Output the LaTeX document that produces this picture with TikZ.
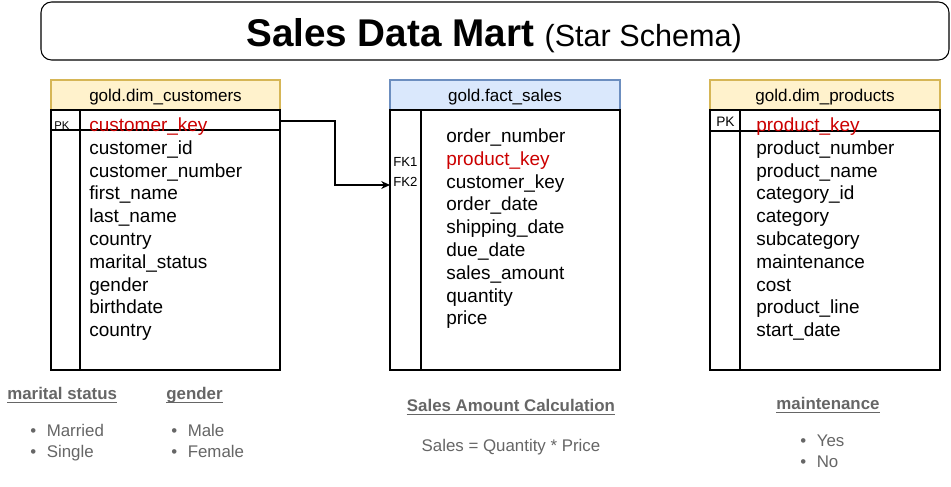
\documentclass[tikz,border=0pt]{standalone}
\usepackage{fontspec}
\setmainfont{Liberation Sans}
\usetikzlibrary{arrows.meta}
\definecolor{dimfill}{HTML}{FFF2CC}
\definecolor{dimline}{HTML}{D6B656}
\definecolor{factfill}{HTML}{DAE8FC}
\definecolor{factline}{HTML}{6C8EBF}
\definecolor{keyred}{HTML}{CC0000}
\definecolor{notegray}{HTML}{666666}
\tikzset{
	field/.style={anchor=base west, inner sep=0pt, font=\fontsize{10.8}{13}\selectfont},
	keyfield/.style={field, text=keyred},
	tblhead/.style={anchor=base, inner sep=0pt, font=\fontsize{9.7}{11.6}\selectfont},
	keytag/.style={anchor=base west, inner sep=0pt, font=\fontsize{7.5}{9}\selectfont},
	note/.style={inner sep=0pt, text=notegray, font=\fontsize{9.6}{11.5}\selectfont},
	notehead/.style={note, font=\bfseries\fontsize{9.6}{11.5}\selectfont},
	tblline/.style={line width=0.6pt},
	fklink/.style={line width=0.6pt, -{Stealth[length=5pt,width=4.5pt]}}
}
\def\noteline(#1){\draw[notegray, line width=0.6pt] ([yshift=-1.8pt]#1.base west) -- ([yshift=-1.8pt]#1.base east);}

\begin{document}
\begin{tikzpicture}[x=0.02cm, y=-0.02cm]
	%%%%% START %%%%%
	\useasboundingbox[fill=white] (0,0) rectangle (951,487);
	
	\draw[tblline, rounded corners=6pt] (41,2) rectangle (949,60);
	\node[anchor=base] (title) at (494,46) {{\bfseries\fontsize{22}{26}\selectfont Sales Data Mart}\hspace{6pt}{\fontsize{17.4}{20}\selectfont (Star Schema)}};
	
	% customers
	\draw[tblline, draw=dimline, fill=dimfill] (51,80) rectangle (280,110);
	\draw[tblline] (51,110) rectangle (280,370);
	\draw[tblline] (51,130) -- (280,130);
	\draw[tblline] (80,110) -- (80,370);
	\node[tblhead] (hcust) at (165.5,101) {gold.dim\_customers};
	\node[keytag, font=\fontsize{6.4}{8}\selectfont] (pkcust) at (54,129) {PK};
	\node[keyfield] (cust0) at (89,131.5) {customer\_key};
	\foreach \f [count=\i] in {customer\_id, customer\_number, first\_name, last\_name, country, marital\_status, gender, birthdate, country}
		\node[field] (cust\i) at (89,{131.5+22.8*\i}) {\f};
	
	% fact
	\draw[tblline, draw=factline, fill=factfill] (390,80) rectangle (620,110);
	\draw[tblline] (390,110) rectangle (620,370);
	\draw[tblline] (421,110) -- (421,370);
	\node[tblhead] (hfact) at (505,101) {gold.fact\_sales};
	\node[keytag] (fk1) at (393,166) {FK1};
	\node[keytag] (fk2) at (393,186) {FK2};
	\node[field] (fact0) at (446,142.5) {order\_number};
	\node[keyfield] (fact1) at (446,165.3) {product\_key};
	\foreach \f [count=\i from 2] in {customer\_key, order\_date, shipping\_date, due\_date, sales\_amount, quantity, price}
		\node[field] (fact\i) at (446,{142.5+22.8*\i}) {\f};
	
	% products
	\draw[tblline, draw=dimline, fill=dimfill] (710,80) rectangle (940,110);
	\draw[tblline] (710,110) rectangle (940,370);
	\draw[tblline] (710,131) -- (940,131);
	\draw[tblline] (740,110) -- (740,370);
	\node[tblhead] (hprod) at (825,101) {gold.dim\_products};
	\node[keytag, font=\fontsize{7.8}{9}\selectfont] (pkprod) at (716,126) {PK};
	\node[keyfield] (prod0) at (756,131.5) {product\_key};
	\foreach \f [count=\i] in {product\_number, product\_name, category\_id, category, subcategory, maintenance, cost, product\_line, start\_date}
		\node[field] (prod\i) at (756,{131.5+22.8*\i}) {\f};
	
	% link
	\coordinate (ckout) at (280,121);
	\coordinate (fk2in) at (390,185);
	\draw[fklink] (ckout) -- ++(55,0) |- (fk2in);
	
	% notes
	\node[notehead, anchor=base west] (nmarital) at (7,399) {marital status};
	\noteline(nmarital)
	\node[note, anchor=base west] (married) at (30,436) {•\hspace{6pt}Married};
	\node[note, anchor=base west] (single) at (30,457) {•\hspace{6pt}Single};
	
	\node[notehead, anchor=base west] (ngender) at (166,399) {gender};
	\noteline(ngender)
	\node[note, anchor=base west] (male) at (171,436) {•\hspace{6pt}Male};
	\node[note, anchor=base west] (female) at (171,457) {•\hspace{6pt}Female};
	
	\node[notehead, anchor=base] (ncalc) at (511,411) {Sales Amount Calculation};
	\noteline(ncalc)
	\node[note, anchor=base] (calc) at (511,451) {Sales = Quantity * Price};
	
	\node[notehead, anchor=base] (nmaint) at (828,409) {maintenance};
	\noteline(nmaint)
	\node[note, anchor=base west] (yes) at (800,446) {•\hspace{6pt}Yes};
	\node[note, anchor=base west] (no) at (800,467) {•\hspace{6pt}No};
	
	%%%%% END %%%%%
\end{tikzpicture}
\end{document}
